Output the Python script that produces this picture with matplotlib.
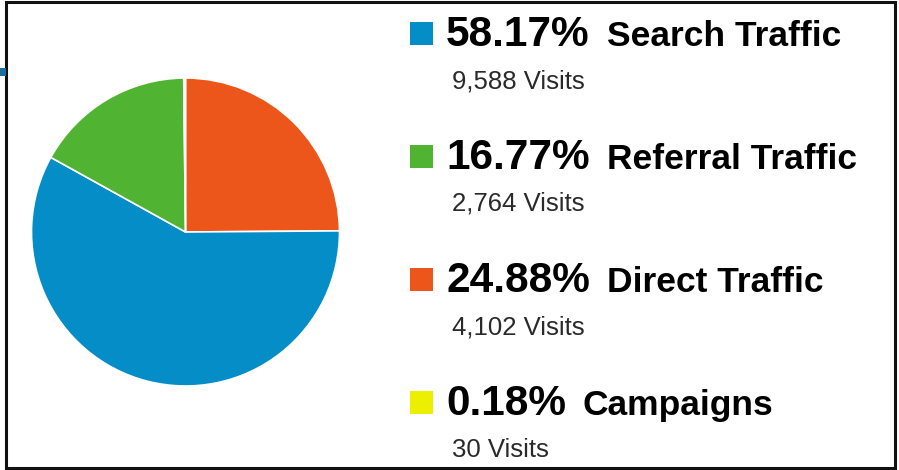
import matplotlib
matplotlib.use("Agg")
import matplotlib.pyplot as plt
from matplotlib.patches import Rectangle

# traffic sources (pie goes clockwise from 12 o'clock in this order)
sources = ["Direct Traffic", "Search Traffic", "Referral Traffic", "Campaigns"]
visits = [4102, 9588, 2764, 30]
percents = [24.88, 58.17, 16.77, 0.18]
colors = ["#ED561B", "#058DC7", "#50B432", "#EDEF00"]

# legend order on the right
legend_order = ["Search Traffic", "Referral Traffic", "Direct Traffic", "Campaigns"]

W, H = 899, 470
fig = plt.figure(figsize=(W / 100, H / 100), dpi=100)
fig.patch.set_facecolor("white")


def fx(x):
    return x / W


def fy(y):
    return 1 - y / H


# pie
ax = fig.add_axes([fx(31.5), fy(386), 308 / W, 308 / H])
ax.pie(visits, colors=colors, startangle=90, counterclock=False,
       wedgeprops=dict(edgecolor="white", linewidth=1.2))
ax.set_xlim(-1.0, 1.0)
ax.set_ylim(-1.0, 1.0)
ax.set_aspect("equal")
ax.axis("off")

# frame around the widget
fig.patches.append(Rectangle((fx(6), fy(468)), fx(895) - fx(6), fy(2) - fy(468),
                             transform=fig.transFigure, fill=False,
                             edgecolor="#111111", linewidth=2.2))
# bit of the page header peeking out on the left
fig.patches.append(Rectangle((fx(0), fy(76)), fx(6), fy(68) - fy(76),
                             transform=fig.transFigure, facecolor="#1b6e9e",
                             edgecolor="none"))

renderer = fig.canvas.get_renderer()
row_step = 123
for i, name in enumerate(legend_order):
    k = sources.index(name)
    base = 46 + i * row_step
    fig.patches.append(Rectangle((fx(410), fy(base - 1)), 23 / W, 23 / H,
                                 transform=fig.transFigure,
                                 facecolor=colors[k], edgecolor="none"))
    t = fig.text(fx(446), fy(base), f"{percents[k]:.2f}%", fontsize=30.5,
                 fontweight="bold", family="Liberation Sans", color="black",
                 va="baseline", ha="left")
    bb = t.get_window_extent(renderer)
    fig.text(fx(bb.x1 + 17), fy(base), name, fontsize=25.5, fontweight="bold",
             family="Liberation Sans", color="black", va="baseline", ha="left")
    fig.text(fx(452), fy(base + 42), f"{visits[k]:,} Visits", fontsize=18.5,
             family="Liberation Sans", color="#2a2a2a", va="baseline", ha="left")

fig.savefig("out.png", dpi=100, facecolor="white")
plt.close()
